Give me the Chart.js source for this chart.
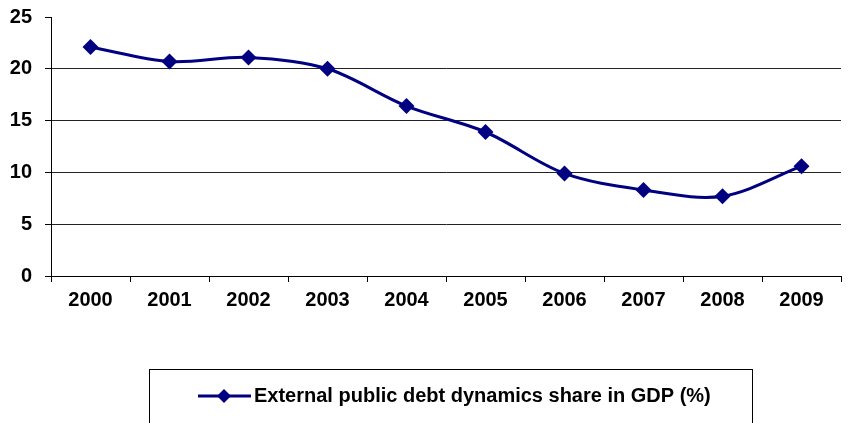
<!DOCTYPE html>
<html>
<head>
<meta charset="utf-8">
<script src="https://cdn.jsdelivr.net/npm/chart.js@4.4.1/dist/chart.umd.min.js"></script>
<style>
  html, body { margin: 0; padding: 0; background: #ffffff; }
  #wrap { position: relative; width: 849px; height: 423px; }
</style>
</head>
<body>
<div id="wrap"><canvas id="c" width="849" height="423"></canvas></div>
<script>
// Years on the category axis
const years = ['2000', '2001', '2002', '2003', '2004', '2005', '2006', '2007', '2008', '2009'];
// External public debt as a share of GDP, %
const debtShare = [22.1, 20.7, 21.1, 20.0, 16.4, 13.9, 9.9, 8.3, 7.7, 10.6];
const seriesLabel = 'External public debt dynamics share in GDP (%)';
// Value axis range and step
const yMin = 0;
const yMax = 25;
const yStep = 5;

const navy = '#000080';
const boldFont = { family: '"Liberation Sans", Arial, sans-serif', size: 20, weight: 'bold' };

// Boxed legend under the plot: line sample with diamond marker plus label
const boxedLegend = {
  id: 'boxedLegend',
  afterDraw(chart) {
    const ctx = chart.ctx;
    const ds = chart.data.datasets[0];
    ctx.save();
    ctx.strokeStyle = '#000';
    ctx.lineWidth = 1;
    ctx.strokeRect(149.5, 369.5, 603, 80);

    const cy = 396;
    ctx.strokeStyle = ds.borderColor;
    ctx.lineWidth = 3;
    ctx.beginPath();
    ctx.moveTo(198, cy);
    ctx.lineTo(251, cy);
    ctx.stroke();

    ctx.fillStyle = ds.pointBackgroundColor;
    const r = 7;
    const mx = 224;
    ctx.beginPath();
    ctx.moveTo(mx - r, cy);
    ctx.lineTo(mx, cy - r);
    ctx.lineTo(mx + r, cy);
    ctx.lineTo(mx, cy + r);
    ctx.closePath();
    ctx.fill();

    ctx.fillStyle = '#000';
    ctx.font = 'bold 20px "Liberation Sans", Arial, sans-serif';
    ctx.textBaseline = 'middle';
    ctx.textAlign = 'left';
    ctx.fillText(ds.label, 254, cy);
    ctx.restore();
  }
};

new Chart(document.getElementById('c'), {
  type: 'line',
  data: {
    labels: years,
    datasets: [{
      label: seriesLabel,
      data: debtShare,
      borderColor: navy,
      backgroundColor: navy,
      borderWidth: 3,
      tension: 0.33,
      pointStyle: 'rectRot',
      pointRadius: 8,
      pointHoverRadius: 8,
      pointBorderWidth: 0,
      pointBackgroundColor: navy,
      pointBorderColor: navy,
      fill: false
    }]
  },
  options: {
    responsive: false,
    animation: false,
    events: [],
    layout: { padding: { top: 17, right: 0, bottom: 107, left: 0 } },
    plugins: {
      legend: { display: false },
      tooltip: { enabled: false },
      title: { display: false }
    },
    scales: {
      x: {
        type: 'category',
        offset: true,
        afterFit(scale) { scale.height = 40; scale.paddingLeft = 0; scale.paddingRight = 0; },
        border: { display: true, color: '#000', width: 1 },
        grid: {
          offset: true,
          drawOnChartArea: false,
          drawTicks: true,
          tickLength: 6,
          color: '#000'
        },
        ticks: { color: '#000', font: boldFont, padding: 6, maxRotation: 0, autoSkip: false }
      },
      y: {
        min: yMin,
        max: yMax,
        afterFit(scale) { scale.width = 51; scale.paddingTop = 0; scale.paddingBottom = 0; },
        border: { display: true, color: '#000', width: 1 },
        grid: {
          drawTicks: true,
          tickLength: 6,
          color: (c) => (c.tick && c.tick.value === yMax ? 'rgba(0,0,0,0)' : '#222'),
          tickColor: '#000'
        },
        ticks: { stepSize: yStep, color: '#000', font: boldFont, padding: 13 }
      }
    }
  },
  plugins: [boxedLegend]
});
</script>
</body>
</html>
